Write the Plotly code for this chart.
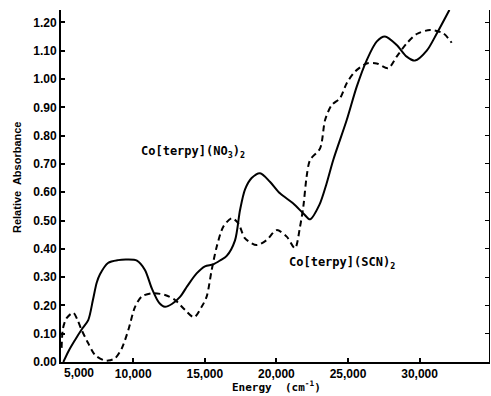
import plotly.graph_objects as go

# Co[terpy](NO3)2 (solid)
no3_energy = [5120, 5500, 5940, 6400, 6860, 7190, 7450, 7680, 8240, 8940, 9600, 10260,
              10820, 11300, 11800, 12220, 12700, 13270, 13800, 14430, 15010, 15580,
              16100, 16530, 17110, 17460, 17810, 18270, 18860, 19550, 20250, 21180,
              21880, 22350, 23000, 23500, 23970, 24910, 25610, 26310, 27000, 27580,
              28400, 29100, 29680, 30500, 31190, 32080]
no3_abs = [0.0, 0.04, 0.078, 0.115, 0.148, 0.22, 0.28, 0.31, 0.35, 0.36, 0.362, 0.358,
           0.325, 0.26, 0.21, 0.195, 0.205, 0.23, 0.27, 0.313, 0.338, 0.345,
           0.36, 0.375, 0.43, 0.537, 0.61, 0.65, 0.667, 0.637, 0.596, 0.56,
           0.525, 0.504, 0.555, 0.63, 0.714, 0.855, 0.973, 1.067, 1.132, 1.15,
           1.12, 1.079, 1.065, 1.10, 1.16, 1.244]

# Co[terpy](SCN)2 (dashed)
scn_energy = [5000, 5100, 5350, 5820, 6100, 6400, 6860, 7330, 7910, 8260, 8730, 9200,
              9660, 10130, 10590, 11290, 12220, 12920, 13620, 14250, 14780, 15130,
              15480, 15830, 16290, 16880, 17340, 17810, 18620, 19320, 20020, 20720,
              21300, 21650, 21880, 22110, 22350, 23050, 23400, 23860, 24440, 24910,
              25490, 26310, 27000, 27810, 28400, 29100, 29800, 30730, 31660, 32240]
scn_abs = [0.05, 0.12, 0.155, 0.174, 0.15, 0.113, 0.066, 0.025, 0.007, 0.005, 0.013, 0.048,
           0.113, 0.195, 0.231, 0.243, 0.237, 0.219, 0.184, 0.158, 0.195, 0.231,
           0.325, 0.407, 0.478, 0.508, 0.49, 0.437, 0.413, 0.431, 0.466, 0.443,
           0.402, 0.478, 0.549, 0.655, 0.714, 0.755, 0.855, 0.908, 0.932, 0.985,
           1.026, 1.055, 1.055, 1.038, 1.079, 1.126, 1.159, 1.173, 1.161, 1.128]

x_ticks = [5000, 10000, 15000, 20000, 25000, 30000]
x_ticktext = ["", "10,000", "15,000", "20,000", "25,000", "30,000"]
y_ticks = [0.0, 0.1, 0.2, 0.3, 0.4, 0.5, 0.6, 0.7, 0.8, 0.9, 1.0, 1.1, 1.2]
y_ticktext = ["0.00", "0.10", "0.20", "0.30", "0.40", "0.50", "0.60", "0.70",
              "0.80", "0.90", "1.00", "1.10", "1.20"]

XR = [4958, 34846]
YR = [0, 1.2438]
tickfont = dict(family="Liberation Sans", size=12, color="black", weight="bold")

fig = go.Figure()
fig.add_trace(go.Scatter(x=no3_energy, y=no3_abs, mode="lines",
                         line=dict(color="black", width=2, shape="spline", smoothing=0.8),
                         showlegend=False, hoverinfo="skip"))
fig.add_trace(go.Scatter(x=scn_energy, y=scn_abs, mode="lines",
                         line=dict(color="black", width=2, dash="6px,4px", shape="spline", smoothing=0.8),
                         showlegend=False, hoverinfo="skip"))
# invisible trace for right-hand mirrored axis
fig.add_trace(go.Scatter(x=[XR[0]], y=[0], yaxis="y2", mode="markers",
                         marker=dict(opacity=0), showlegend=False, hoverinfo="skip"))

fig.update_layout(
    width=491, height=396,
    margin=dict(l=61, r=2, t=10, b=34),
    paper_bgcolor="white", plot_bgcolor="white",
    xaxis=dict(range=XR, tickvals=x_ticks, ticktext=x_ticktext, ticks="inside",
               ticklen=4, tickwidth=1.5, tickcolor="black", showline=True,
               linecolor="black", linewidth=2, showgrid=False, zeroline=False,
               tickfont=tickfont),
    yaxis=dict(range=YR, tickvals=y_ticks, ticktext=y_ticktext, ticks="inside",
               ticklen=4, tickwidth=1.5, tickcolor="black", showline=True,
               linecolor="black", linewidth=2, showgrid=False, zeroline=False,
               tickfont=tickfont),
    yaxis2=dict(range=YR, overlaying="y", side="right", tickvals=y_ticks,
                showticklabels=False, ticks="inside", ticklen=4, tickwidth=1.2,
                tickcolor="black", showline=True, linecolor="black", linewidth=1,
                showgrid=False, zeroline=False),
)

labfont = dict(family="DejaVu Sans Mono", size=12, color="black", weight="bold")
fig.add_annotation(x=5000, y=0, xref="x", yref="y", text="5,000", showarrow=False,
                   xanchor="left", yanchor="top", yshift=-2, font=tickfont)
fig.add_annotation(x=14176, y=0.742, xref="x", yref="y",
                   text="Co[terpy](NO<sub>3</sub>)<sub>2</sub>", showarrow=False, font=labfont)
fig.add_annotation(x=24581, y=0.35, xref="x", yref="y",
                   text="Co[terpy](SCN)<sub>2</sub>", showarrow=False, font=labfont)
fig.add_annotation(x=(17 - 61) / 428, y=(362 - 178) / 352, xref="paper", yref="paper",
                   xanchor="center", yanchor="middle",
                   text="Relative  Absorbance", textangle=-90, showarrow=False,
                   font=dict(family="Liberation Sans", size=11, color="black", weight="bold"))
fig.add_annotation(x=(276 - 61) / 428, y=(362 - 395) / 352, xref="paper", yref="paper",
                   xanchor="center", yanchor="bottom", borderpad=0,
                   text="Energy  (cm<sup>-1</sup>)", showarrow=False,
                   font=dict(family="DejaVu Sans Mono", size=11, color="black", weight="bold"))

fig.write_html("out.html")
